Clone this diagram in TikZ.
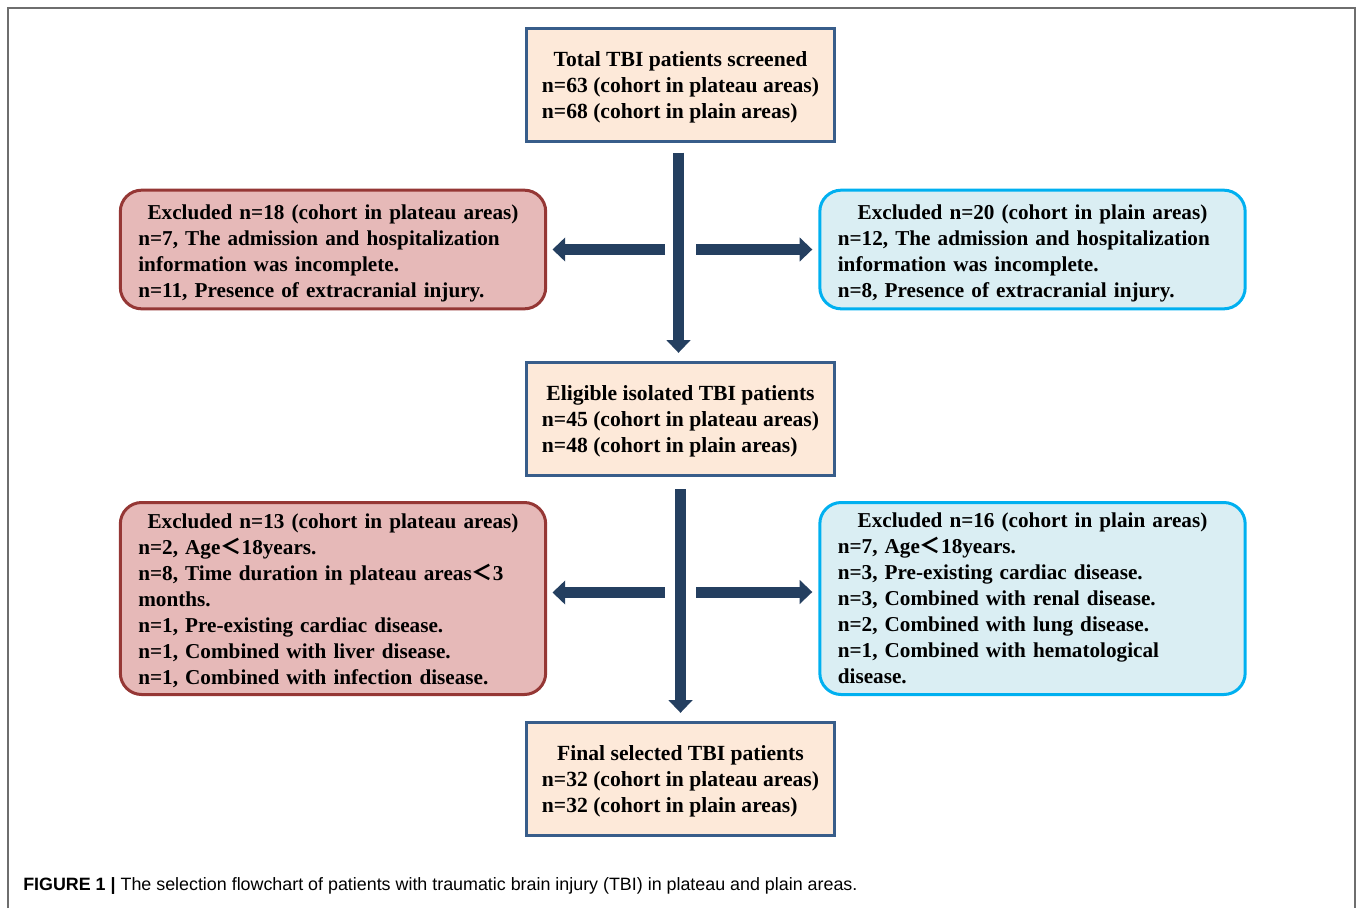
\documentclass[tikz,border=0pt]{standalone}
\usepackage{fontspec}
\setmainfont{Liberation Serif}
\setsansfont{Liberation Sans}
\newfontfamily\cjk{Noto Sans CJK SC}
\usetikzlibrary{arrows.meta}

\definecolor{boxpeach}{HTML}{FDE9D9}
\definecolor{boxedge}{HTML}{385D8A}
\definecolor{plateaufill}{HTML}{E6B9B8}
\definecolor{plateauedge}{HTML}{953735}
\definecolor{plainfill}{HTML}{DAEEF3}
\definecolor{plainedge}{HTML}{00B0F0}
\definecolor{arrownavy}{HTML}{243F60}
\definecolor{framegray}{HTML}{6E6E6E}

\newcommand{\ltsign}{{\cjk ＜}}
\newcommand{\boxfont}{\fontsize{16.2}{19.5}\selectfont\bfseries}
\newcommand{\exclfont}{\fontsize{15.9}{19.5}\selectfont\bfseries}
\newcommand{\headstrut}{\rule{0pt}{17pt}}
\newcommand{\lowstrut}{\rule{0pt}{14.5pt}}
\newcommand{\headline}[1]{\makebox[\hsize][c]{#1}}

\tikzset{
    flowbox/.style={draw=boxedge, fill=boxpeach, line width=2.25pt,
        minimum width=231pt, minimum height=85pt, inner sep=0pt, font=\boxfont},
    exclbox/.style={line width=2.25pt, rounded corners=16pt,
        text width=292pt, minimum width=319pt, inner xsep=7pt, inner ysep=1pt,
        align=left, font=\exclfont},
    plateaubox/.style={exclbox, draw=plateauedge, fill=plateaufill},
    plainbox/.style={exclbox, draw=plainedge, fill=plainfill},
    bigarrow/.style={draw=arrownavy, line width=8.25pt,
        -{Triangle[width=17.5pt, length=9.5pt]}}
}

\begin{document}
\begin{tikzpicture}[x=0.75pt, y=-0.75pt]
    \useasboundingbox (0,0) rectangle (1357,908);

    % Frame round the figure
    \draw[framegray, line width=1.1pt] (8,908) -- (8,8) -- (1355,8) -- (1355,908);

    % Main flow boxes
    \node[flowbox] (total) at (680.5,85) {\begin{tabular}{@{}l@{}}
        \multicolumn{1}{@{}c@{}}{\headstrut Total TBI patients screened}\\
        n=63 (cohort in plateau areas)\\
        n=68 (cohort in plain areas)\end{tabular}};
    \node[flowbox] (eligible) at (680.5,419) {\begin{tabular}{@{}l@{}}
        \multicolumn{1}{@{}c@{}}{\headstrut Eligible isolated TBI patients}\\
        n=45 (cohort in plateau areas)\\
        n=48 (cohort in plain areas)\end{tabular}};
    \node[flowbox] (final) at (680.5,779) {\begin{tabular}{@{}l@{}}
        \multicolumn{1}{@{}c@{}}{\headstrut Final selected TBI patients}\\
        n=32 (cohort in plateau areas)\\
        n=32 (cohort in plain areas)\end{tabular}};

    % First exclusion step
    \node[plateaubox, minimum height=89pt] (exclA) at (333,249.5) {%
        \headstrut\headline{Excluded n=18 (cohort in plateau areas)}\\
        n=7, The admission and hospitalization\\
        information was incomplete.\\
        n=11, Presence of extracranial injury.};
    \node[plainbox, minimum height=89pt] (exclB) at (1032.5,249.5) {%
        \headstrut\headline{Excluded n=20 (cohort in plain areas)}\\
        n=12, The admission and hospitalization\\
        information was incomplete.\\
        n=8, Presence of extracranial injury.};

    % Second exclusion step
    \node[plateaubox, minimum height=144pt] (exclC) at (333,598.5) {%
        \lowstrut\headline{Excluded n=13 (cohort in plateau areas)}\\
        n=2, Age\ltsign18years.\\
        n=8, Time duration in plateau areas\ltsign3\\
        months.\\
        n=1, Pre-existing cardiac disease.\\
        n=1, Combined with liver disease.\\
        n=1, Combined with infection disease.};
    \node[plainbox, minimum height=144pt] (exclD) at (1032.5,598.5) {%
        \headline{Excluded n=16 (cohort in plain areas)}\\
        n=7, Age\ltsign18years.\\
        n=3, Pre-existing cardiac disease.\\
        n=3, Combined with renal disease.\\
        n=2, Combined with lung disease.\\
        n=1, Combined with hematological\\
        disease.};

    % Arrows
    \coordinate (leftA) at (665,249.5);
    \coordinate (rightA) at (696,249.5);
    \coordinate (leftB) at (665,592.5);
    \coordinate (rightB) at (696,592);
    \draw[bigarrow, shorten <=7pt, shorten >=6pt] ([xshift=-1.5pt]total.south) -- ([xshift=-1.5pt]eligible.north);
    \draw[bigarrow] (leftA) -- ([xshift=4pt]exclA.east);
    \draw[bigarrow] (rightA) -- ([xshift=-4.5pt]exclB.west);
    \draw[bigarrow, shorten <=9pt, shorten >=6pt] (eligible.south) -- (final.north);
    \draw[bigarrow] (leftB) -- ([xshift=4pt]exclC.east |- leftB);
    \draw[bigarrow] (rightB) -- ([xshift=-4.5pt]exclD.west |- rightB);

    % Caption
    \node[anchor=west, inner sep=0pt, font=\sffamily\fontsize{13.4}{16}\selectfont] (caption) at (23,886)
        {\textbf{FIGURE 1 |} The selection flowchart of patients with traumatic brain injury (TBI) in plateau and plain areas.};
\end{tikzpicture}
\end{document}
